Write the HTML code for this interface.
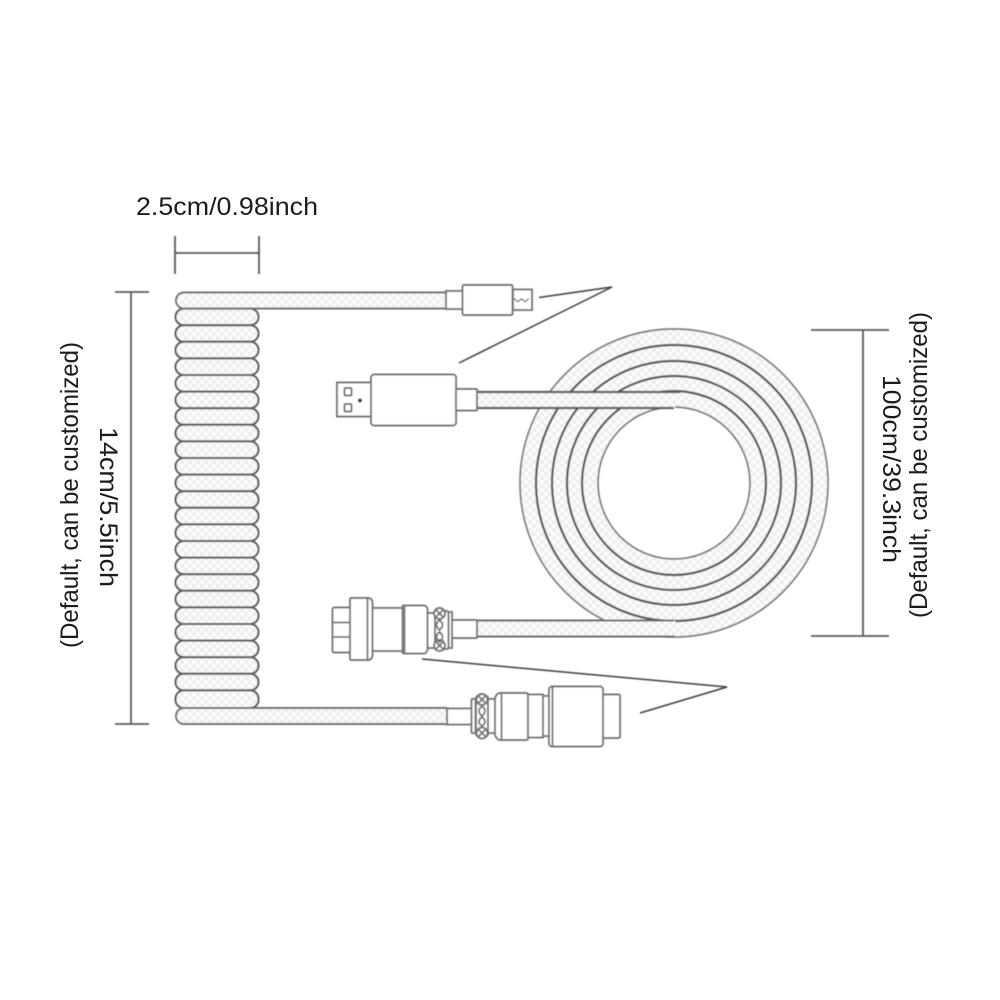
<!DOCTYPE html>
<html>
<head>
<meta charset="utf-8">
<style>
html,body{margin:0;padding:0;background:#fff;width:1000px;height:1000px;overflow:hidden}
svg{display:block}
text{font-family:"Liberation Sans",sans-serif;fill:#1c1c1c;font-size:25px}
.l{fill:none;stroke:#707070;stroke-width:1.8}
.b{fill:#fff;stroke:#747474;stroke-width:1.9}
.d{stroke:#585858;stroke-width:1.8;fill:none}
.a{stroke:#3c3c3c;stroke-width:1.5;fill:none}
</style>
</head>
<body>
<svg width="1000" height="1000" viewBox="0 0 1000 1000" xmlns="http://www.w3.org/2000/svg">
<defs>
<pattern id="h" width="8" height="8" patternUnits="userSpaceOnUse">
<rect width="8" height="8" fill="#fcfcfc"/>
<rect width="4" height="4" fill="#eeeeee"/>
<rect x="4" y="4" width="4" height="4" fill="#eeeeee"/>
</pattern>
<filter id="s" x="0" y="0" width="1000" height="1000" filterUnits="userSpaceOnUse"><feGaussianBlur stdDeviation="0.4"/></filter>
<filter id="t" x="0" y="0" width="1000" height="1000" filterUnits="userSpaceOnUse"><feGaussianBlur stdDeviation="0.3"/></filter>
</defs>

<g filter="url(#t)">
<text x="136" y="215" textLength="182" lengthAdjust="spacingAndGlyphs">2.5cm/0.98inch</text>
<text transform="translate(78,648) rotate(-90)" textLength="306" lengthAdjust="spacingAndGlyphs">(Default, can be customized)</text>
<text transform="translate(100,427) rotate(90)" textLength="160" lengthAdjust="spacingAndGlyphs">14cm/5.5inch</text>
<text transform="translate(883,375) rotate(90)" textLength="188" lengthAdjust="spacingAndGlyphs">100cm/39.3inch</text>
<text transform="translate(927,618) rotate(-90)" textLength="306" lengthAdjust="spacingAndGlyphs">(Default, can be customized)</text>
</g>

<g filter="url(#s)">
<!-- dimension lines -->
<path class="d" d="M175 236V274M259 236V274M175 253H259"/>
<path class="d" d="M115 292H149M115 724H149M131 292V724"/>
<path class="d" d="M811 330H889M811 636H889M863 330V636"/>

<!-- coil rings -->
<circle cx="674" cy="483" r="115" fill="none" stroke="url(#h)" stroke-width="78"/>
<circle cx="674" cy="483" r="154" fill="none" stroke="#7c7c7c" stroke-width="1.7"/>
<circle cx="674" cy="483" r="138" fill="none" stroke="#545454" stroke-width="2.2"/>
<circle cx="674" cy="483" r="122" fill="none" stroke="#545454" stroke-width="2.2"/>
<circle cx="674" cy="483" r="107" fill="none" stroke="#545454" stroke-width="2.2"/>
<circle cx="674" cy="483" r="92" fill="none" stroke="#545454" stroke-width="2.2"/>
<circle cx="674" cy="483" r="76" fill="none" stroke="#7c7c7c" stroke-width="1.7"/>

<!-- straight cables -->
<rect x="477" y="392" width="198" height="16" fill="url(#h)"/>
<path d="M477 392H680M477 408H674" stroke="#5a5a5a" stroke-width="2.2" fill="none"/>
<rect x="477" y="620.500" width="198" height="15.500" fill="url(#h)"/>
<path d="M477 620.500H674M477 636.500H674" stroke="#686868" stroke-width="1.900" fill="none"/>

<!-- spiral -->
<g fill="url(#h)" stroke="#585858" stroke-width="2">
<rect x="175.500" y="308.600" width="83" height="16.600" rx="8.300"/>
<rect x="175.500" y="325.200" width="83" height="16.600" rx="8.300"/>
<rect x="175.500" y="341.800" width="83" height="16.600" rx="8.300"/>
<rect x="175.500" y="358.400" width="83" height="16.600" rx="8.300"/>
<rect x="175.500" y="375.000" width="83" height="16.600" rx="8.300"/>
<rect x="175.500" y="391.600" width="83" height="16.600" rx="8.300"/>
<rect x="175.500" y="408.200" width="83" height="16.600" rx="8.300"/>
<rect x="175.500" y="424.800" width="83" height="16.600" rx="8.300"/>
<rect x="175.500" y="441.400" width="83" height="16.600" rx="8.300"/>
<rect x="175.500" y="458.000" width="83" height="16.600" rx="8.300"/>
<rect x="175.500" y="474.600" width="83" height="16.600" rx="8.300"/>
<rect x="175.500" y="491.200" width="83" height="16.600" rx="8.300"/>
<rect x="175.500" y="507.800" width="83" height="16.600" rx="8.300"/>
<rect x="175.500" y="524.400" width="83" height="16.600" rx="8.300"/>
<rect x="175.500" y="541.000" width="83" height="16.600" rx="8.300"/>
<rect x="175.500" y="557.600" width="83" height="16.600" rx="8.300"/>
<rect x="175.500" y="574.200" width="83" height="16.600" rx="8.300"/>
<rect x="175.500" y="590.800" width="83" height="16.600" rx="8.300"/>
<rect x="175.500" y="607.400" width="83" height="16.600" rx="8.300"/>
<rect x="175.500" y="624.000" width="83" height="16.600" rx="8.300"/>
<rect x="175.500" y="640.600" width="83" height="16.600" rx="8.300"/>
<rect x="175.500" y="657.200" width="83" height="16.600" rx="8.300"/>
<rect x="175.500" y="673.800" width="83" height="16.600" rx="8.300"/>
<rect x="175.500" y="690.400" width="83" height="17.600" rx="8.300"/>
</g>
<g stroke="#6e6e6e" stroke-width="1.900" fill="url(#h)">
<path d="M447 292.500H184a8 8 0 0 0 0 16H447"/>
<path d="M447 708H184a8 8 0 0 0 0 16H447"/>
</g>

<!-- micro usb connector -->
<rect class="b" x="446" y="291" width="17" height="18"/>
<rect class="b" x="462.500" y="285" width="50" height="30" rx="1.500"/>
<rect class="b" x="513" y="289.500" width="19" height="20.500"/>
<path d="M514 299c2 0 2 2.500 4 2.500s2-2.500 3.500-2.500 2 2.500 3.500 2.500 2-2.500 4-2.500" fill="none" stroke="#555" stroke-width="1.200"/>

<!-- usb A connector -->
<path class="b" d="M371 382.500H337v34H371"/>
<rect class="b" x="344.500" y="388" width="7" height="7.500" rx="1"/>
<rect class="b" x="344.500" y="404" width="7" height="7.500" rx="1"/>
<circle cx="360" cy="400.500" r="2" fill="#333"/>
<rect class="b" x="371" y="374.500" width="85" height="51" rx="3"/>
<rect class="b" x="456" y="389" width="21" height="21.500" rx="1"/>

<!-- aviator connector 1 -->
<g>
<rect class="b" x="332.500" y="607.500" width="18" height="45" rx="2"/>
<path class="l" d="M333 622.500H350M333 637H350"/>
<path class="b" d="M350 599.500q0-1.500 1.500-1.500H368q4 0 4.500 5V655q-.5 5-4.500 5H351.500q-1.500 0-1.500-1.500Z"/>
<path class="l" d="M367.500 598.500V659.500"/>
<rect class="b" x="372.500" y="608" width="30" height="43"/>
<path class="b" d="M402.500 606.500q0-1 1.500-1h20q2 0 3.500 3V650q-1.500 3.500-3.500 3.500H404q-1.500 0-1.500-1.500Z"/>
<path class="l" d="M404.500 606V653"/>
<rect class="b" x="427.500" y="613" width="8" height="35"/>
<rect class="b" x="435" y="611" width="13.500" height="38" rx="2"/>
<rect class="b" x="448.500" y="612" width="3.500" height="36"/>
<circle class="b" cx="439.500" cy="613.500" r="5.500"/>
<path class="l" stroke-width="1.100" d="M435.500 609.500l8 8M443.500 609.500l-8 8"/>
<circle class="b" cx="439.500" cy="645.500" r="5.500"/>
<path class="l" stroke-width="1.100" d="M435.500 641.500l8 8M443.500 641.500l-8 8"/>
<path class="l" stroke-width="1.200" d="M439.500 620q6 5 0 10q-6-5 0-10ZM439.500 632q6 5 0 10q-6-5 0-10Z"/>
<rect class="b" x="452" y="620" width="25" height="18" rx="1"/>
</g>

<!-- aviator connector 2 -->
<g>
<rect class="b" x="447" y="708.500" width="25" height="16"/>
<rect class="b" x="471.500" y="699" width="4" height="34" rx="1"/>
<rect class="b" x="476" y="696" width="12" height="40" rx="2"/>
<rect class="b" x="488" y="699" width="7" height="34"/>
<circle class="b" cx="482" cy="699.500" r="5.500"/>
<path class="l" stroke-width="1.100" d="M478 695.500l8 8M486 695.500l-8 8"/>
<circle class="b" cx="482" cy="733" r="5.500"/>
<path class="l" stroke-width="1.100" d="M478 729l8 8M486 729l-8 8"/>
<path class="l" stroke-width="1.200" d="M482 706q6 5 0 10q-6-5 0-10ZM482 717q6 5 0 9q-6-4 0-9Z"/>
<path class="b" d="M495 698q2-5 5-5h26q2 0 2 2V738q0 2-2 2h-26q-3 0-5-5Z"/>
<path class="l" d="M501.500 693V740"/>
<rect class="b" x="528" y="694.500" width="15" height="43"/>
<rect class="b" x="543" y="696" width="6" height="40"/>
<rect class="b" x="549" y="686.500" width="54" height="60" rx="3"/>
<path class="l" d="M552.500 687V746"/>
<rect class="b" x="603" y="694.500" width="17" height="43.500" rx="1.500"/>
</g>

<!-- angle marks -->
<path class="a" d="M539 297.500L612 287L459 363"/>
<path class="a" d="M422 659L727 687L640 713"/>
</g>
</svg>
</body>
</html>
